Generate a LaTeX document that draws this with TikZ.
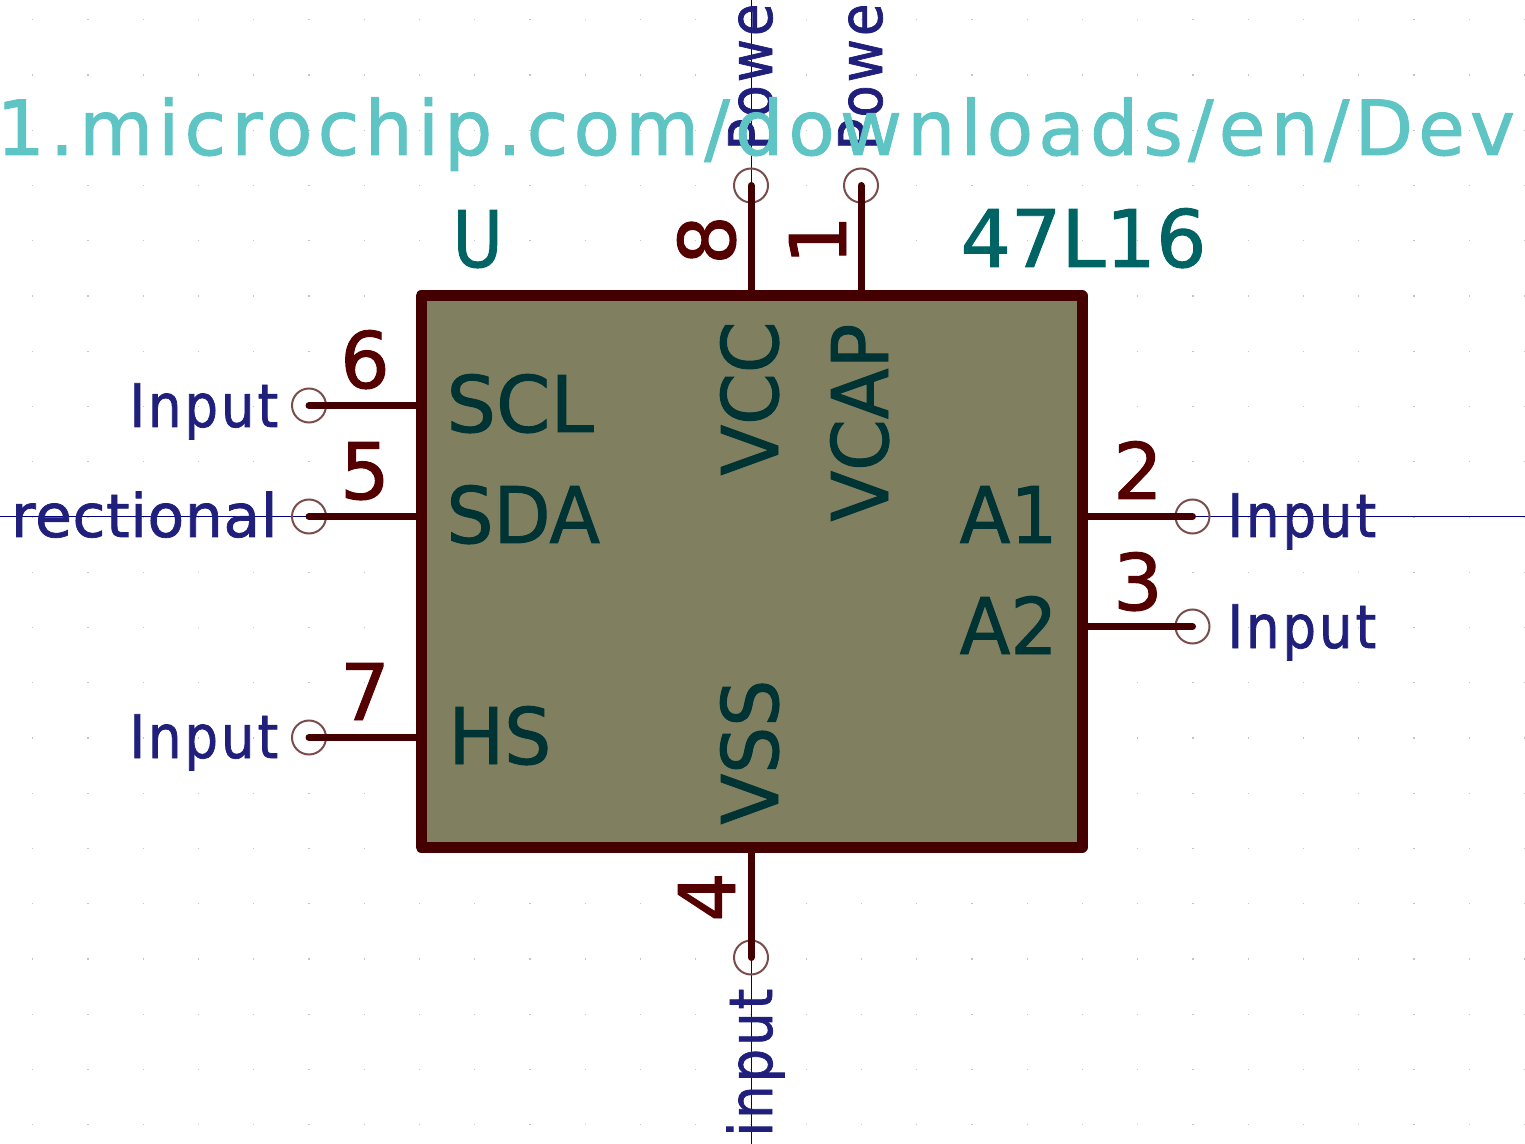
\documentclass[tikz,border=0pt]{standalone}
\usepackage{fontspec}
\setmainfont[FakeBold=1.2]{DejaVu Sans}
\newfontfamily\slimfont[FakeBold=1.2,FakeStretch=0.95]{DejaVu Sans}
\newfontfamily\slimmerfont[FakeBold=1.2,FakeStretch=0.88]{DejaVu Sans}
\newfontfamily\typefont[FakeBold=1.2,FakeStretch=0.88,LetterSpace=5]{DejaVu Sans}
\newfontfamily\widefont[FakeBold=1.2,LetterSpace=1]{DejaVu Sans}
\newfontfamily\urlfont[FakeBold=1.2,LetterSpace=6.7]{DejaVu Sans}
\definecolor{pincol}{HTML}{440000}
\definecolor{numcol}{HTML}{550000}
\definecolor{bodycol}{HTML}{808060}
\definecolor{namecol}{HTML}{003333}
\definecolor{valcol}{HTML}{006464}
\definecolor{typecol}{HTML}{20207C}
\definecolor{urlcol}{HTML}{5FC4C4}
\definecolor{axiscol}{HTML}{000080}
\definecolor{circcol}{HTML}{7A4C4C}
\definecolor{gridcol}{HTML}{C4C4C4}
\tikzset{every picture/.style={line width=0.75pt},
  bodybox/.style={draw=pincol,fill=bodycol,line width=8.25pt,line join=round,inner sep=0pt,minimum width=495.75pt,minimum height=413.25pt},
  pincirc/.style={circle,draw=circcol,line width=1.5pt,inner sep=0pt,minimum size=25.5pt},
  pinline/.style={draw=pincol,line width=5.25pt,line cap=round},
  pinnum/.style={text=numcol,font=\fontsize{58.5pt}{58.5pt}\selectfont,inner sep=0pt},
  pinname/.style={text=namecol,font=\fontsize{58.5pt}{58.5pt}\selectfont,inner sep=0pt},
  vallabel/.style={text=valcol,font=\fontsize{58.5pt}{58.5pt}\selectfont,inner sep=0pt},
  pintype/.style={text=typecol,font=\fontsize{45pt}{45pt}\selectfont,inner sep=0pt}}

\begin{document}
\begin{tikzpicture}[x=0.75pt,y=0.75pt,yscale=-1,xscale=1]
\useasboundingbox (0,0) rectangle (1525,1144);

%Grid dots
\foreach \i in {-13,...,14}
  \foreach \j in {-9,...,11}
    \fill [gridcol] ({751+\i*55.25-0.7},{517+\j*55.25-0.7}) rectangle ++(1.4,1.4);

%Axes
\coordinate (axisW) at (0,517);
\coordinate (axisE) at (1525,517);
\coordinate (axisN) at (751,0);
\coordinate (axisS) at (751,1144);
\draw [axiscol,line width=0.75pt] (axisW) -- (axisE);
\draw [axiscol,line width=0.75pt] (axisN) -- (axisS);

%Pin ends
\node [pincirc] (pinSCL) at (309,405.5) {};
\node [pincirc] (pinSDA) at (309,516.5) {};
\node [pincirc] (pinHS) at (309,737.5) {};
\node [pincirc] (pinAone) at (1192.5,516.5) {};
\node [pincirc] (pinAtwo) at (1192.5,626.5) {};
\node [pincirc] (pinVCC) at (751,185.5) {};
\node [pincirc] (pinVCAP) at (861,185.5) {};
\node [pincirc] (pinVSS) at (751,957.5) {};

%Body
\node [bodybox] (body) at (751.5,571.5) {};

%Pins
\draw [pinline] (pinSCL.center) -- (body.west |- pinSCL);
\draw [pinline] (pinSDA.center) -- (body.west |- pinSDA);
\draw [pinline] (pinHS.center) -- (body.west |- pinHS);
\draw [pinline] (pinAone.center) -- (body.east |- pinAone);
\draw [pinline] (pinAtwo.center) -- (body.east |- pinAtwo);
\draw [pinline] (pinVCC.center) -- (pinVCC |- body.north);
\draw [pinline] (pinVCAP.center) -- (pinVCAP |- body.north);
\draw [pinline] (pinVSS.center) -- (pinVSS |- body.south);

% Pin numbers
\node [pinnum,anchor=base] (numsix) at (365,388) {6};
\node [pinnum,anchor=base] (numfive) at (365,499) {5};
\node [pinnum,anchor=base] (numseven) at (365,720) {7};
\node [pinnum,anchor=base] (numtwo) at (1138,499) {2};
\node [pinnum,anchor=base] (numthree) at (1138,610) {3};
\node [pinnum,anchor=base,rotate=90] (numeight) at (735,240) {8};
\node [pinnum,anchor=base,rotate=90] (numone) at (846,240) {1};
\node [pinnum,anchor=base,rotate=90] (numfour) at (735,897) {4};

% Pin names
\node [pinname,anchor=base west] (nameSCL) at (446,432) {SCL};
\node [pinname,anchor=base west] (nameSDA) at (446,543) {\slimfont SDA};
\node [pinname,anchor=base west] (nameHS) at (448,764) {\slimfont HS};
\node [pinname,anchor=base east] (nameAone) at (1058,543) {\slimfont A1};
\node [pinname,anchor=base east] (nameAtwo) at (1058,654) {\slimfont A2};
\node [pinname,anchor=base west,rotate=90] (nameVCC) at (778,476) {\slimfont VCC};
\node [pinname,anchor=base west,rotate=90] (nameVCAP) at (888,522) {\slimfont VCAP};
\node [pinname,anchor=base west,rotate=90] (nameVSS) at (778,825) {\slimfont VSS};

% Reference and value
\node [vallabel,anchor=base west] (reflabel) at (452,267) {\slimmerfont U};
\node [vallabel,font=\fontsize{59.5pt}{59.5pt}\selectfont,anchor=base west] (vallabel) at (960,267) {47L16};

% Pin types
\node [pintype,anchor=base west] (typeSCL) at (129,427) {\typefont Input};
\node [pintype,anchor=base east] (typeSDA) at (278,537) {\widefont rectional};
\node [pintype,anchor=base west] (typeHS) at (129,758) {\typefont Input};
\node [pintype,anchor=base west] (typeAone) at (1227,537) {\typefont Input};
\node [pintype,anchor=base west] (typeAtwo) at (1227,648) {\typefont Input};
\node [pintype,anchor=base west,rotate=90] (typeVCC) at (772,151) {\typefont Powe};
\node [pintype,anchor=base west,rotate=90] (typeVCAP) at (882,151) {\typefont Powe};
\node [pintype,anchor=base west,rotate=90] (typeVSS) at (772,1137) {\typefont input};

% Datasheet
\node [text=urlcol,font=\fontsize{57pt}{57pt}\urlfont,inner sep=0pt,anchor=base west] (sheetlabel) at (-4,155) {1.microchip.com/downloads/en/Dev};

\end{tikzpicture}
\end{document}
